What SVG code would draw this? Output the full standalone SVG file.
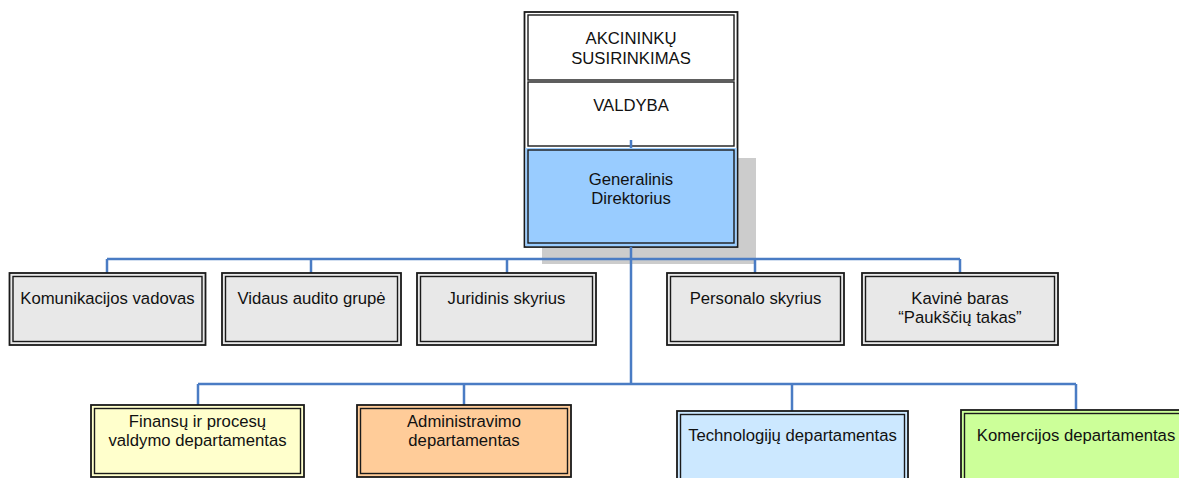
<svg xmlns="http://www.w3.org/2000/svg" width="1179" height="478" viewBox="0 0 1179 478">
<style>
.o{stroke:#1a1a1a;stroke-width:1.8}
.i{fill:none;stroke:#1a1a1a;stroke-width:1.4}
.t{font-family:"Liberation Sans",Arial,sans-serif;font-size:16.7px;fill:#111;text-anchor:middle}
.c{fill:none;stroke:#4a7cc4;stroke-width:2.5}
.g{fill:#e8e8e8}
</style>
<rect x="542" y="158" width="214" height="106" fill="#cccccc"/>
<g id="stack">
<rect x="524.5" y="12" width="213" height="235" fill="#fff" class="o"/>
<g id="akcininku">
<rect x="528" y="15" width="206" height="65" class="i"/>
<text class="t" x="631" y="44">AKCININKŲ</text>
<text class="t" x="631" y="64">SUSIRINKIMAS</text>
</g>
<g id="valdyba">
<rect x="528" y="82" width="206" height="64" class="i"/>
<text class="t" x="631" y="111">VALDYBA</text>
</g>
<g id="generalinis">
<rect x="525.4" y="148" width="211.2" height="98.2" fill="#99ccff"/>
<rect x="528" y="150" width="206" height="93" class="i"/>
<text class="t" x="631" y="185">Generalinis</text>
<text class="t" x="631" y="204">Direktorius</text>
</g>
</g>
<g id="connectors">
<path class="c" d="M631 140V148M631 247V384M107 259H960M107 259V273M311 259V273M507 259V273M755 259V273M960 259V273M198 384H1076M198 384V405M464 384V405M792 384V411M1076 384V410"/>
</g>
<g id="komunikacijos">
<rect x="9.5" y="273" width="196" height="72" class="o g"/>
<rect x="13" y="276.5" width="189" height="65" class="i"/>
<text class="t" x="107.5" y="304">Komunikacijos vadovas</text>
</g>
<g id="vidaus">
<rect x="222" y="273" width="179" height="72" class="o g"/>
<rect x="225.5" y="276.5" width="172" height="65" class="i"/>
<text class="t" x="311.5" y="304">Vidaus audito grupė</text>
</g>
<g id="juridinis">
<rect x="417" y="273" width="179" height="72" class="o g"/>
<rect x="420.5" y="276.5" width="172" height="65" class="i"/>
<text class="t" x="506.5" y="304">Juridinis skyrius</text>
</g>
<g id="personalo">
<rect x="667" y="273" width="177" height="72" class="o g"/>
<rect x="670.5" y="276.5" width="170" height="65" class="i"/>
<text class="t" x="755.5" y="304">Personalo skyrius</text>
</g>
<g id="kavine">
<rect x="862" y="273" width="196" height="72" class="o g"/>
<rect x="865.5" y="276.5" width="189" height="65" class="i"/>
<text class="t" x="960" y="304">Kavinė baras</text>
<text class="t" x="960" y="323">“Paukščių takas”</text>
</g>
<g id="finansu">
<rect x="91" y="405" width="213" height="72" class="o" fill="#ffffcc"/>
<rect x="94.5" y="408.5" width="206" height="65" class="i"/>
<text class="t" x="197.5" y="427">Finansų ir procesų</text>
<text class="t" x="197.5" y="446">valdymo departamentas</text>
</g>
<g id="administravimo">
<rect x="357" y="405" width="214" height="72" class="o" fill="#ffcc99"/>
<rect x="360.5" y="408.5" width="207" height="65" class="i"/>
<text class="t" x="464" y="427">Administravimo</text>
<text class="t" x="464" y="446">departamentas</text>
</g>
<g id="technologiju">
<rect x="677" y="411" width="231" height="80" class="o" fill="#cce8ff"/>
<rect x="680.5" y="414.5" width="224" height="73" class="i"/>
<text class="t" x="792.5" y="441">Technologijų departamentas</text>
</g>
<g id="komercijos">
<rect x="961" y="410" width="230" height="80" class="o" fill="#ccff99"/>
<rect x="964.5" y="413.5" width="223" height="73" class="i"/>
<text class="t" x="1076" y="441">Komercijos departamentas</text>
</g>
</svg>
